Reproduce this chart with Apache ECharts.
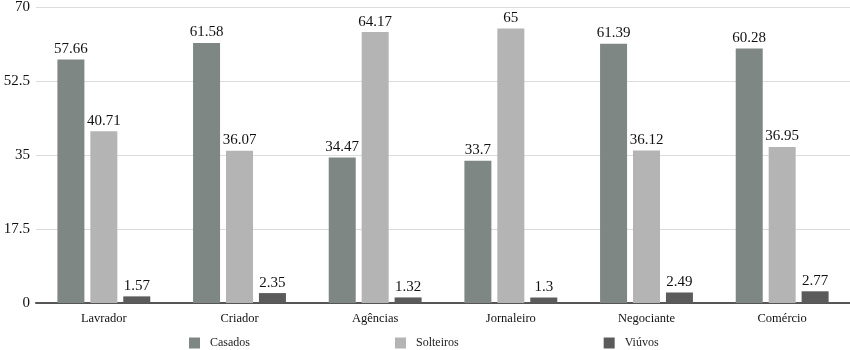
<!DOCTYPE html>
<html>
<head>
<meta charset="utf-8">
<script src="https://cdn.jsdelivr.net/npm/echarts@6/dist/echarts.min.js"></script>
<style>
  html, body { margin: 0; padding: 0; background: #fff; }
  #chart { width: 850px; height: 350px; }
</style>
</head>
<body>
<div id="chart"></div>
<script>
// dados
var categorias = ['Lavrador', 'Criador', 'Agências', 'Jornaleiro', 'Negociante', 'Comércio'];
var casados = [57.66, 61.58, 34.47, 33.7, 61.39, 60.28];
var solteiros = [40.71, 36.07, 64.17, 65, 36.12, 36.95];
var viuvos = [1.57, 2.35, 1.32, 1.3, 2.49, 2.77];
var yTicks = [0, 17.5, 35, 52.5, 70];

var fonte = '"Liberation Serif", "DejaVu Serif", serif';

document.addEventListener('DOMContentLoaded', function() {
  var myChart = echarts.init(document.getElementById('chart'));

  function serie(nome, dados, cor) {
    return {
      name: nome,
      type: 'bar',
      data: dados,
      barWidth: 27,
      barGap: '22%',
      itemStyle: { color: cor },
      label: {
        show: true,
        position: 'top',
        distance: 3,
        color: '#111',
        fontFamily: fonte,
        fontSize: 15
      }
    };
  }

  var option = {
    animation: false,
    textStyle: { fontFamily: fonte },
    grid: { left: 36, right: 0, top: 4, bottom: 47, containLabel: false },
    legend: {
      top: 337,
      left: 189,
      padding: 0,
      itemWidth: 11,
      itemHeight: 11,
      itemGap: 145,
      icon: 'rect',
      textStyle: { fontFamily: fonte, fontSize: 12, color: '#222', padding: [0, 0, 0, 5] },
      data: ['Casados', 'Solteiros', 'Viúvos']
    },
    xAxis: {
      type: 'category',
      data: categorias,
      axisLine: { lineStyle: { color: '#555', width: 2 } },
      axisTick: { show: false },
      axisLabel: { color: '#111', fontFamily: fonte, fontSize: 12.5, margin: 9 }
    },
    yAxis: {
      type: 'value',
      min: yTicks[0],
      max: yTicks[yTicks.length - 1],
      interval: 17.5,
      axisLine: { show: false },
      axisTick: { show: false },
      splitLine: { lineStyle: { color: '#dcdcdc' } },
      axisLabel: { color: '#111', fontFamily: fonte, fontSize: 15, margin: 6 }
    },
    series: [
      serie('Casados', casados, '#7f8784'),
      serie('Solteiros', solteiros, '#b4b4b4'),
      serie('Viúvos', viuvos, '#5b5b5b')
    ]
  };

  myChart.setOption(option);
});
</script>
</body>
</html>
